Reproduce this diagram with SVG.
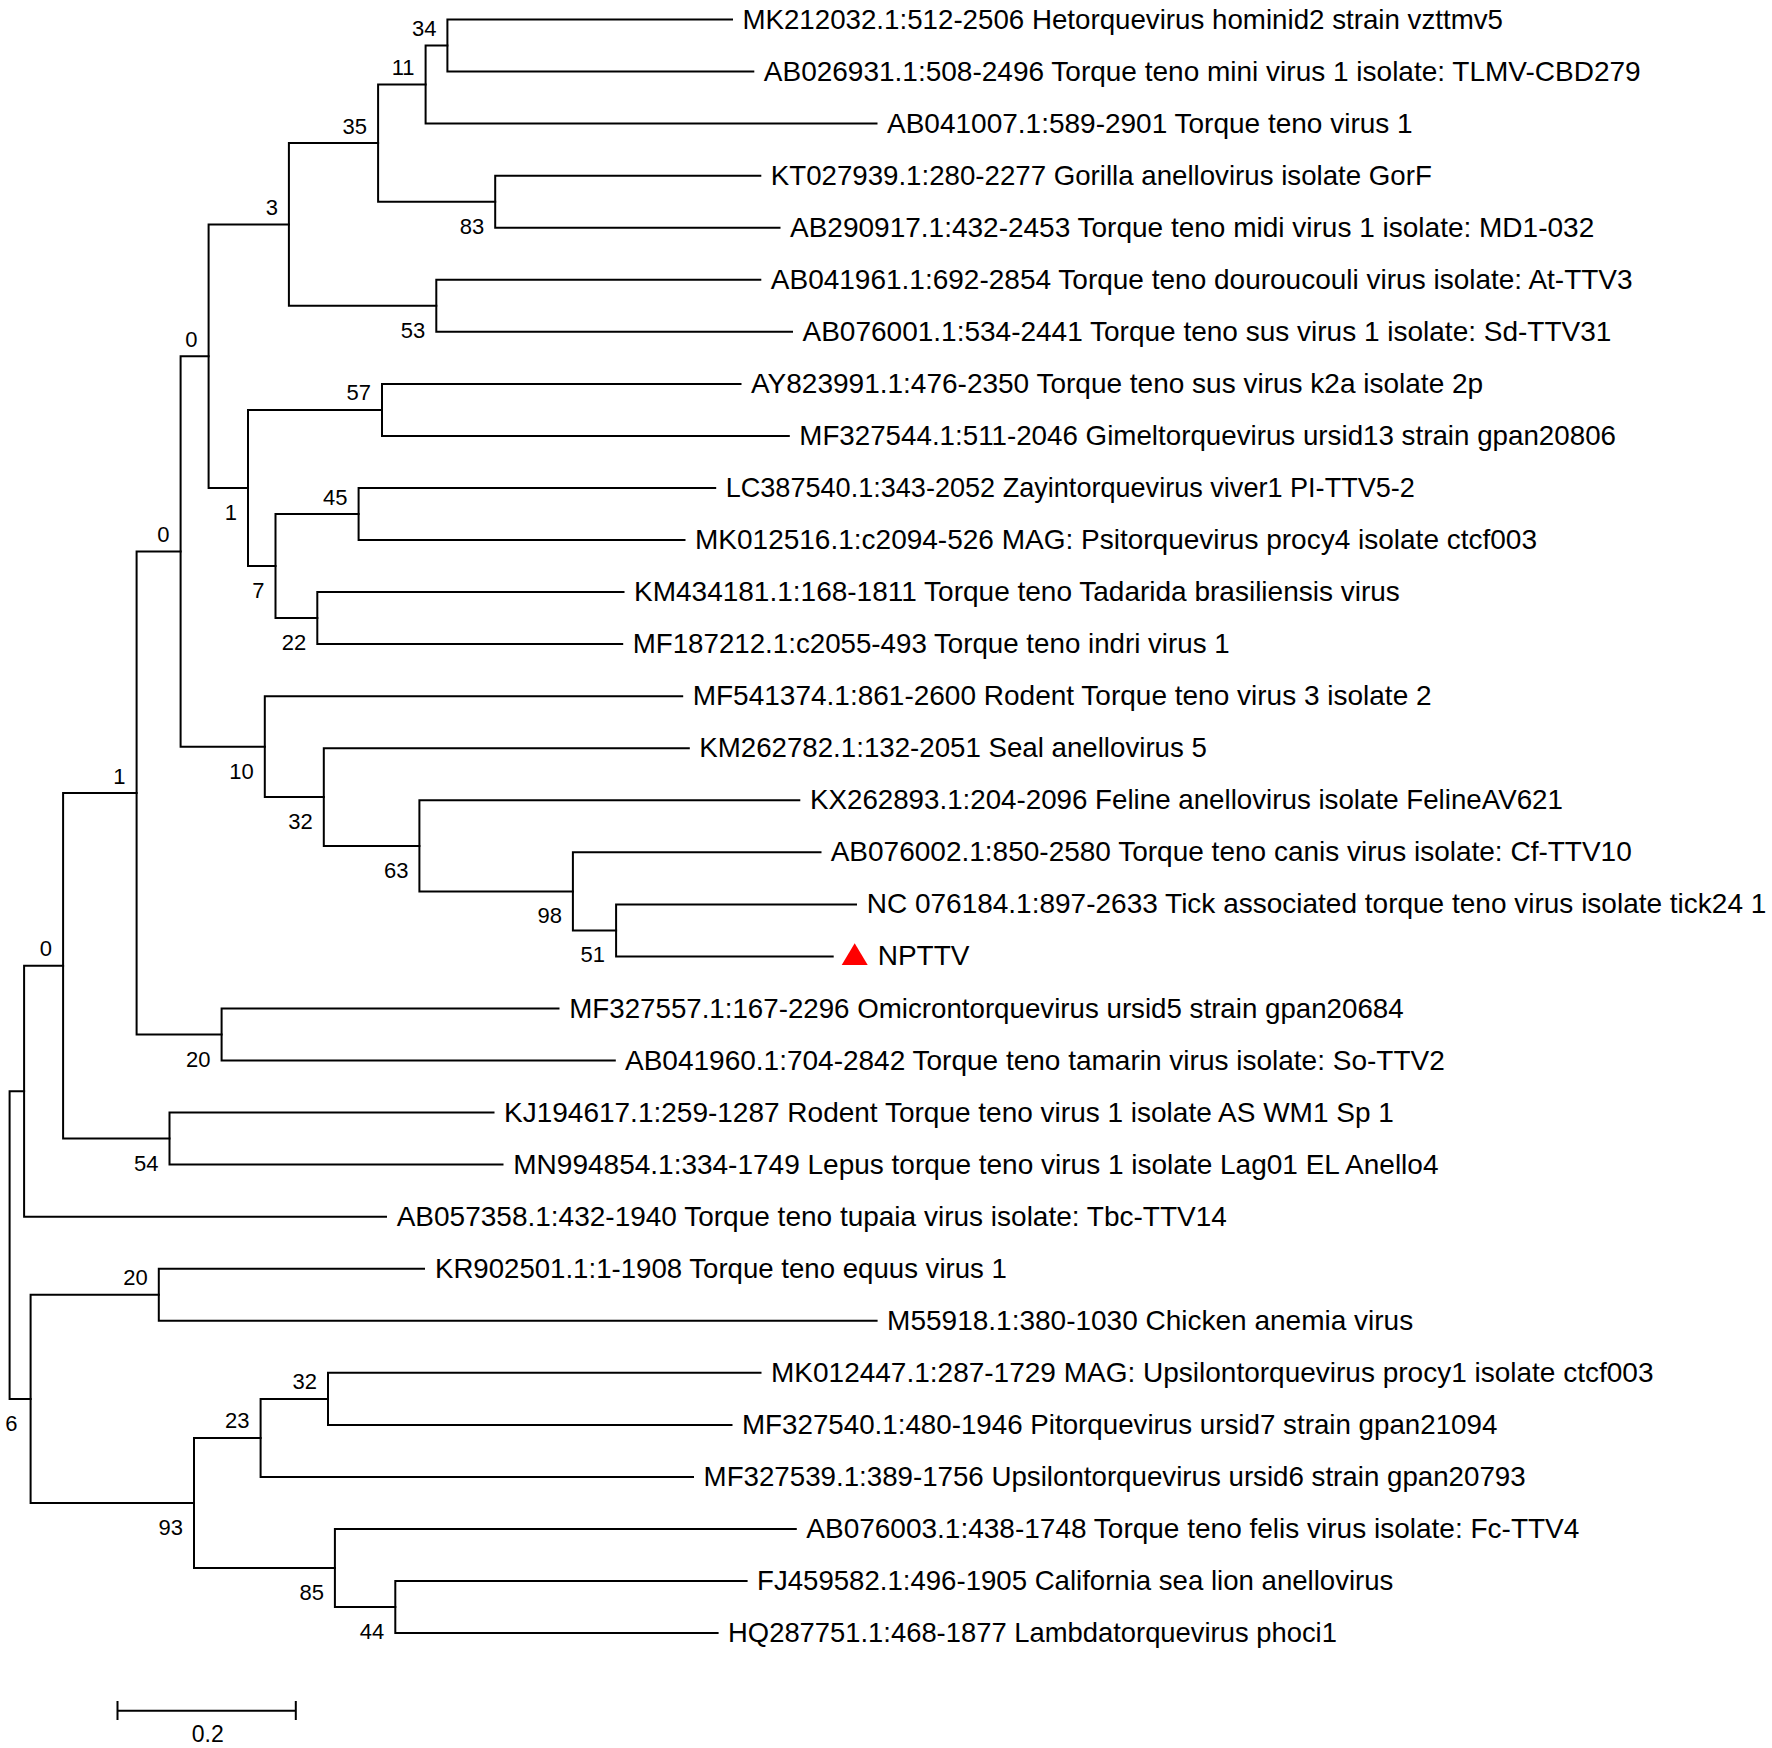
<svg xmlns="http://www.w3.org/2000/svg" width="1772" height="1748" viewBox="0 0 1772 1748">
<style>
.br{fill:none;stroke:#000;stroke-width:2;stroke-linecap:square}
.lf{font-family:"Liberation Sans",Arial,sans-serif;font-size:28px;fill:#000}
.bs{font-family:"Liberation Sans",Arial,sans-serif;font-size:22px;fill:#000;text-anchor:end}
.sc{font-family:"Liberation Sans",Arial,sans-serif;font-size:23px;fill:#000;text-anchor:middle}
</style>
<rect width="1772" height="1748" fill="#fff"/>
<g id="connectors">
<path class="br" d="M732 19.5 H447.4 V71.6 H753.3"/>
<path class="br" d="M447.4 45.5 H425.6 V123.6 H876.5"/>
<path class="br" d="M760.3 175.7 H495.2 V227.7 H779.5"/>
<path class="br" d="M425.6 84.6 H378.1 V201.7 H495.2"/>
<path class="br" d="M760.3 279.8 H436.3 V331.8 H792"/>
<path class="br" d="M378.1 143.1 H288.9 V305.8 H436.3"/>
<path class="br" d="M740.5 383.9 H382 V435.9 H788.8"/>
<path class="br" d="M715.2 488 H358.6 V540 H684.5"/>
<path class="br" d="M623.5 592.1 H317.3 V644.1 H622.2"/>
<path class="br" d="M358.6 514 H275.5 V618.1 H317.3"/>
<path class="br" d="M382 409.9 H248 V566.1 H275.5"/>
<path class="br" d="M288.9 224.5 H208.6 V488 H248"/>
<path class="br" d="M856 904.4 H616.1 V956.4 H832.7"/>
<path class="br" d="M820.5 852.3 H572.9 V930.4 H616.1"/>
<path class="br" d="M799.3 800.3 H419.4 V891.4 H572.9"/>
<path class="br" d="M688.8 748.2 H323.8 V845.9 H419.4"/>
<path class="br" d="M682.2 696.2 H264.8 V797.1 H323.8"/>
<path class="br" d="M208.6 356.3 H180.6 V746.7 H264.8"/>
<path class="br" d="M558.5 1008.5 H221.6 V1060.5 H614.8"/>
<path class="br" d="M180.6 551.5 H136.6 V1034.5 H221.6"/>
<path class="br" d="M493.5 1112.6 H169.5 V1164.6 H502.5"/>
<path class="br" d="M136.6 793 H63.1 V1138.6 H169.5"/>
<path class="br" d="M63.1 965.8 H24.1 V1216.7 H386"/>
<path class="br" d="M424 1268.7 H158.8 V1320.8 H876.6"/>
<path class="br" d="M760.5 1372.8 H328 V1424.9 H731.5"/>
<path class="br" d="M328 1398.9 H260.6 V1476.9 H693"/>
<path class="br" d="M746.6 1581 H395.3 V1633.1 H717.6"/>
<path class="br" d="M795.8 1529 H334.9 V1607.1 H395.3"/>
<path class="br" d="M260.6 1437.9 H194 V1568 H334.9"/>
<path class="br" d="M158.8 1294.8 H30.6 V1503 H194"/>
<path class="br" d="M24.1 1091.3 H9.6 V1398.9 H30.6"/>
</g>
<g id="leaves">
<g id="leaf0"><text class="lf" x="742.4" y="28.5" textLength="760.6" lengthAdjust="spacingAndGlyphs">MK212032.1:512-2506 Hetorquevirus hominid2 strain vzttmv5</text></g>
<g id="leaf1"><text class="lf" x="763.8" y="80.6">AB026931.1:508-2496 Torque teno mini virus 1 isolate: TLMV-CBD279</text></g>
<g id="leaf2"><text class="lf" x="887" y="132.6">AB041007.1:589-2901 Torque teno virus 1</text></g>
<g id="leaf3"><text class="lf" x="770.8" y="184.7" textLength="661" lengthAdjust="spacingAndGlyphs">KT027939.1:280-2277 Gorilla anellovirus isolate GorF</text></g>
<g id="leaf4"><text class="lf" x="790" y="236.7">AB290917.1:432-2453 Torque teno midi virus 1 isolate: MD1-032</text></g>
<g id="leaf5"><text class="lf" x="770.8" y="288.8">AB041961.1:692-2854 Torque teno douroucouli virus isolate: At-TTV3</text></g>
<g id="leaf6"><text class="lf" x="802.5" y="340.8">AB076001.1:534-2441 Torque teno sus virus 1 isolate: Sd-TTV31</text></g>
<g id="leaf7"><text class="lf" x="751" y="392.9">AY823991.1:476-2350 Torque teno sus virus k2a isolate 2p</text></g>
<g id="leaf8"><text class="lf" x="799.3" y="444.9" textLength="816.7" lengthAdjust="spacingAndGlyphs">MF327544.1:511-2046 Gimeltorquevirus ursid13 strain gpan20806</text></g>
<g id="leaf9"><text class="lf" x="725.7" y="497" textLength="689.2" lengthAdjust="spacingAndGlyphs">LC387540.1:343-2052 Zayintorquevirus viver1 PI-TTV5-2</text></g>
<g id="leaf10"><text class="lf" x="695" y="549">MK012516.1:c2094-526 MAG: Psitorquevirus procy4 isolate ctcf003</text></g>
<g id="leaf11"><text class="lf" x="634" y="601.1">KM434181.1:168-1811 Torque teno Tadarida brasiliensis virus</text></g>
<g id="leaf12"><text class="lf" x="632.7" y="653.1" textLength="596.9" lengthAdjust="spacingAndGlyphs">MF187212.1:c2055-493 Torque teno indri virus 1</text></g>
<g id="leaf13"><text class="lf" x="692.7" y="705.2">MF541374.1:861-2600 Rodent Torque teno virus 3 isolate 2</text></g>
<g id="leaf14"><text class="lf" x="699.3" y="757.2" textLength="507.6" lengthAdjust="spacingAndGlyphs">KM262782.1:132-2051 Seal anellovirus 5</text></g>
<g id="leaf15"><text class="lf" x="810" y="809.3" textLength="752.9" lengthAdjust="spacingAndGlyphs">KX262893.1:204-2096 Feline anellovirus isolate FelineAV621</text></g>
<g id="leaf16"><text class="lf" x="830.7" y="861.3">AB076002.1:850-2580 Torque teno canis virus isolate: Cf-TTV10</text></g>
<g id="leaf17"><text class="lf" x="866.7" y="913.4">NC 076184.1:897-2633 Tick associated torque teno virus isolate tick24 1</text></g>
<g id="leaf18"><polygon points="841.7,965 867.7,965 854.7,943.3" fill="#f00"/><text class="lf" x="877.7" y="965.4">NPTTV</text></g>
<g id="leaf19"><text class="lf" x="569.3" y="1017.5" textLength="834.3" lengthAdjust="spacingAndGlyphs">MF327557.1:167-2296 Omicrontorquevirus ursid5 strain gpan20684</text></g>
<g id="leaf20"><text class="lf" x="625" y="1069.5">AB041960.1:704-2842 Torque teno tamarin virus isolate: So-TTV2</text></g>
<g id="leaf21"><text class="lf" x="504" y="1121.6">KJ194617.1:259-1287 Rodent Torque teno virus 1 isolate AS WM1 Sp 1</text></g>
<g id="leaf22"><text class="lf" x="513.3" y="1173.6">MN994854.1:334-1749 Lepus torque teno virus 1 isolate Lag01 EL Anello4</text></g>
<g id="leaf23"><text class="lf" x="396.7" y="1225.7">AB057358.1:432-1940 Torque teno tupaia virus isolate: Tbc-TTV14</text></g>
<g id="leaf24"><text class="lf" x="435" y="1277.7" textLength="571.9" lengthAdjust="spacingAndGlyphs">KR902501.1:1-1908 Torque teno equus virus 1</text></g>
<g id="leaf25"><text class="lf" x="887.1" y="1329.8">M55918.1:380-1030 Chicken anemia virus</text></g>
<g id="leaf26"><text class="lf" x="771" y="1381.8">MK012447.1:287-1729 MAG: Upsilontorquevirus procy1 isolate ctcf003</text></g>
<g id="leaf27"><text class="lf" x="742" y="1433.9" textLength="755.4" lengthAdjust="spacingAndGlyphs">MF327540.1:480-1946 Pitorquevirus ursid7 strain gpan21094</text></g>
<g id="leaf28"><text class="lf" x="703.6" y="1485.9" textLength="822" lengthAdjust="spacingAndGlyphs">MF327539.1:389-1756 Upsilontorquevirus ursid6 strain gpan20793</text></g>
<g id="leaf29"><text class="lf" x="806.3" y="1538">AB076003.1:438-1748 Torque teno felis virus isolate: Fc-TTV4</text></g>
<g id="leaf30"><text class="lf" x="757.1" y="1590" textLength="636.3" lengthAdjust="spacingAndGlyphs">FJ459582.1:496-1905 California sea lion anellovirus</text></g>
<g id="leaf31"><text class="lf" x="728.1" y="1642.1" textLength="608.8" lengthAdjust="spacingAndGlyphs">HQ287751.1:468-1877 Lambdatorquevirus phoci1</text></g>
</g>
<g id="internal-nodes">
<g id="n34"><text class="bs" x="436.4" y="36">34</text></g>
<g id="n11"><text class="bs" x="414.6" y="75.1">11</text></g>
<g id="n35"><text class="bs" x="367.1" y="133.6">35</text></g>
<g id="n83"><text class="bs" x="484.2" y="233.7">83</text></g>
<g id="n3"><text class="bs" x="277.9" y="215">3</text></g>
<g id="n53"><text class="bs" x="425.3" y="337.8">53</text></g>
<g id="nA"><text class="bs" x="197.6" y="346.8">0</text></g>
<g id="n57"><text class="bs" x="371" y="400.4">57</text></g>
<g id="n1a"><text class="bs" x="237" y="520">1</text></g>
<g id="n45"><text class="bs" x="347.6" y="504.5">45</text></g>
<g id="n7"><text class="bs" x="264.5" y="598.1">7</text></g>
<g id="n22"><text class="bs" x="306.3" y="650.1">22</text></g>
<g id="nB"><text class="bs" x="169.6" y="542">0</text></g>
<g id="n10"><text class="bs" x="253.8" y="778.7">10</text></g>
<g id="n32"><text class="bs" x="312.8" y="829.1">32</text></g>
<g id="n63"><text class="bs" x="408.4" y="877.9">63</text></g>
<g id="n98"><text class="bs" x="561.9" y="923.4">98</text></g>
<g id="n51"><text class="bs" x="605.1" y="962.4">51</text></g>
<g id="nC"><text class="bs" x="125.6" y="783.5">1</text></g>
<g id="n20a"><text class="bs" x="210.6" y="1066.5">20</text></g>
<g id="nD"><text class="bs" x="52.1" y="956.3">0</text></g>
<g id="n54"><text class="bs" x="158.5" y="1170.6">54</text></g>
<g id="nE"></g>
<g id="n20b"><text class="bs" x="147.8" y="1285.3">20</text></g>
<g id="n32b"><text class="bs" x="317" y="1389.4">32</text></g>
<g id="n23"><text class="bs" x="249.6" y="1428.4">23</text></g>
<g id="n93"><text class="bs" x="183" y="1535">93</text></g>
<g id="n85"><text class="bs" x="323.9" y="1600">85</text></g>
<g id="n44"><text class="bs" x="384.3" y="1639.1">44</text></g>
<g id="nF"><text class="bs" x="17.6" y="1430.9">6</text></g>
</g>
<g id="scale-bar">
<path class="br" d="M117.5 1710.7 H295.8 M117.5 1701 V1720 M295.8 1701 V1720" style="stroke-linecap:butt"/>
<text class="sc" x="207.8" y="1741.5">0.2</text>
</g>
</svg>
